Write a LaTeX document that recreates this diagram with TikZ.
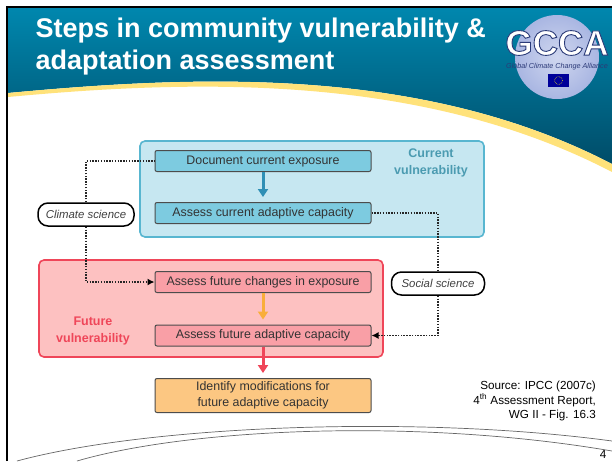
\documentclass[tikz,border=0pt]{standalone}
\usepackage{fontspec}
\setmainfont{Liberation Sans}
\usetikzlibrary{arrows.meta,positioning,shapes.geometric}
\definecolor{headtop}{HTML}{0087AE}
\definecolor{headbot}{HTML}{004C68}
\definecolor{curvegold}{HTML}{FFE27A}
\definecolor{bluefill}{HTML}{C6E7F1}
\definecolor{bluedraw}{HTML}{58B6D0}
\definecolor{bluestep}{HTML}{7DCBE0}
\definecolor{blueline}{HTML}{2F8FB5}
\definecolor{redfill}{HTML}{FDC1C1}
\definecolor{reddraw}{HTML}{EF4659}
\definecolor{redstep}{HTML}{F99FA6}
\definecolor{orangeline}{HTML}{F9AE3A}
\definecolor{orangestep}{HTML}{FCC782}
\definecolor{logoblue}{HTML}{A9B6E2}
\definecolor{logodark}{HTML}{2C3A78}
\newcommand{\outlined}[1]{\special{pdf:code 2 Tr 0.9 w 0.17 0.23 0.47 RG}#1\special{pdf:code 0 Tr}}
\begin{document}
\begin{tikzpicture}[
    x=1pt,
    y=-1pt,
    node distance=52pt,
    font=\fontsize{12.4}{14}\selectfont,
    step box/.style={
		rectangle,
		rounded corners=2pt,
		draw=black!70,
		line width=1pt,
		text=black!80,
		text centered,
		text height=9pt,
		text depth=3pt,
		inner sep=0pt,
		minimum width=216pt,
		minimum height=21pt
	},
	group box/.style={
		rectangle,
		rounded corners=5pt,
		line width=1.6pt
	},
	science/.style={
		rectangle,
		rounded corners=10pt,
		draw=black,
		fill=white,
		line width=1.5pt,
		text=black!75,
		inner sep=0pt,
		minimum height=23pt,
		font=\fontsize{11.4}{13}\selectfont\itshape
	},
	group label/.style={
		align=center,
		font=\fontsize{12.5}{16.5}\selectfont\bfseries
	},
	dots/.style={
		draw=black!85,
		line width=1.6pt,
		dash pattern=on 1.5pt off 1.3pt
	},
	dots tip/.style={
		dots,
		-{Latex[length=7pt,width=7pt,black]}
	},
	flow/.style={
		line width=3pt,
		-{Triangle[length=8pt,width=10pt]},
		shorten >=5pt
	}
  ]
  \useasboundingbox (0,0) rectangle (612,461);
  \fill [white] (0,0) rectangle (612,461);
    % header band and curves
  \shade [top color=headtop, bottom color=headbot]
    (8,8) -- (612,8) -- (612,164) .. controls (420,64) and (190,76) .. (8,93) -- cycle;
  \fill [curvegold]
    (8,93) .. controls (190,76) and (420,64) .. (612,164) -- (612,172)
    .. controls (420,72) and (190,80) .. (8,97) -- cycle;
  \draw [black, line width=2.5pt] (6.8,461) -- (6.8,7.2) -- (612,7.2);
  \draw [black!60, line width=0.7pt] (17,461) .. controls (150,425) and (420,415) .. (612,441);
  \draw [black!60, line width=0.7pt] (77,461) .. controls (190,428) and (420,418) .. (612,451);

  \node [text=white, align=left, anchor=north west, inner sep=0pt,
    font=\fontsize{27}{32}\selectfont\bfseries] (title) at (35.5,18)
    {Steps in community vulnerability \&\\adaptation assessment};

    % logo
  \shade [inner color=logoblue!55, outer color=logoblue] (557,57) circle (42);
  \node [text=white, inner sep=0pt, font=\fontsize{35}{35}\selectfont\bfseries] (gcca) at (557,43) {\outlined{GCCA}};
  \node [text=logodark, inner sep=0pt, font=\fontsize{7.2}{8}\selectfont\itshape] (alliance) at (557,67) {Global Climate Change Alliance};
  \node [fill=blue!60!black, minimum width=21pt, minimum height=13pt, inner sep=0pt] (flag) at (558.5,80.5) {};
  \draw [yellow!80!black, densely dotted, line width=0.6pt] (flag.center) circle (4);

    % We start by placing the group boxes
  \node [group box, draw=bluedraw, fill=bluefill, minimum width=344pt, minimum height=96pt] (current) at (312,189) {};
  \node [group box, draw=reddraw, fill=redfill, minimum width=344pt, minimum height=97pt] (future) at (211,308.5) {};

  \node [step box, fill=bluestep] (document) at (263,161) {Document current exposure};
  \node [step box, fill=bluestep, below of=document] (capacity) {Assess current adaptive capacity};
  \node [step box, fill=redstep, below of=capacity, node distance=69pt] (changes) {Assess future changes in exposure};
  \node [step box, fill=redstep, below of=changes, node distance=53.5pt] (adaptive) {Assess future adaptive capacity};
  \node [step box, fill=orangestep, below of=adaptive, node distance=60pt, minimum height=34pt, text height=, text depth=, align=center, font=\fontsize{12.4}{15.7}\selectfont] (identify)
    {Identify modifications for\\future adaptive capacity};

  \node [science, minimum width=96pt] (climate) at (86,214.5) {Climate science};
  \node [science, minimum width=93pt] (social) at (438,283.5) {Social science};

  \node [group label, text=bluedraw!85!black] (currentlabel) at (431,163) {Current\\vulnerability};
  \node [group label, text=reddraw] (futurelabel) at (93,331) {Future\\vulnerability};

  \node [inner sep=0pt, align=right, anchor=north east, font=\fontsize{11.7}{14.5}\selectfont] (source) at (596,381)
    {Source: IPCC (2007c)\\4\textsuperscript{th} Assessment Report,\\WG II - Fig. 16.3};
  \node [inner sep=0pt, font=\fontsize{11.7}{13}\selectfont] (pagenum) at (603,454) {4};

 \draw [flow, blueline] (document) -- (capacity);
 \draw [flow, orangeline] (changes) -- (adaptive);
 \draw [flow, reddraw] (adaptive) -- (identify);
 \draw [dots] (climate) |- (document);
 \draw [dots tip] (climate) |- (changes);
 \draw [dots] (capacity) -| (social);
 \draw [dots tip] (social) |- (adaptive);
\end{tikzpicture}
\end{document}
